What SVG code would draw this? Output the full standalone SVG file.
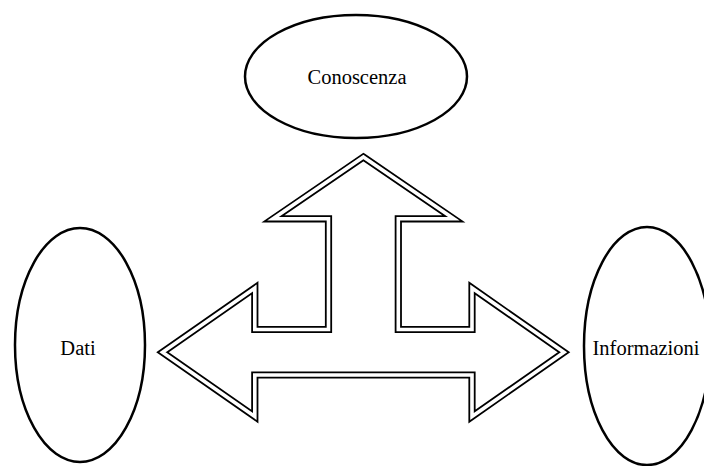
<svg xmlns="http://www.w3.org/2000/svg" width="704" height="466" viewBox="0 0 704 466">
  <style>
    .node ellipse { fill: #ffffff; stroke: #000000; stroke-width: 2.5; }
    .label { font-family: "Liberation Serif", "Times New Roman", "DejaVu Serif", serif; font-size: 20.5px; fill: #000000; text-anchor: middle; }
    .arrow-body { fill: #ffffff; stroke: #000000; stroke-width: 7.2; stroke-linejoin: miter; stroke-miterlimit: 12; }
    .arrow-gap { fill: none; stroke: #ffffff; stroke-width: 3.6; stroke-linejoin: miter; stroke-miterlimit: 12; }
  </style>

  <rect x="0" y="0" width="704" height="466" fill="#ffffff"/>

  <!-- three-way block arrow (up, left, right) drawn with a double outline:
       a wide black stroke with a narrower white stroke over its middle -->
  <g id="connectors">
    <polygon class="arrow-body"
      points="363.4,157 453.8,218.8 398.3,218.8 398.3,329.5 472,329.5 472,288 564,352.2 472,416.5 472,375 254.8,375 254.8,416.5 162.5,352.2 254.8,288 254.8,329.5 328.5,329.5 328.5,218.8 273,218.8"/>
    <polygon class="arrow-gap"
      points="363.4,157 453.8,218.8 398.3,218.8 398.3,329.5 472,329.5 472,288 564,352.2 472,416.5 472,375 254.8,375 254.8,416.5 162.5,352.2 254.8,288 254.8,329.5 328.5,329.5 328.5,218.8 273,218.8"/>
  </g>

  <g id="node-conoscenza" class="node">
    <ellipse cx="356" cy="76.5" rx="111" ry="61.5"/>
    <text class="label" x="357" y="84">Conoscenza</text>
  </g>

  <g id="node-dati" class="node">
    <ellipse cx="80" cy="345" rx="65" ry="117"/>
    <text class="label" x="78" y="355">Dati</text>
  </g>

  <g id="node-informazioni" class="node">
    <ellipse cx="647" cy="346" rx="63" ry="119"/>
    <text class="label" x="646" y="355">Informazioni</text>
  </g>
</svg>
